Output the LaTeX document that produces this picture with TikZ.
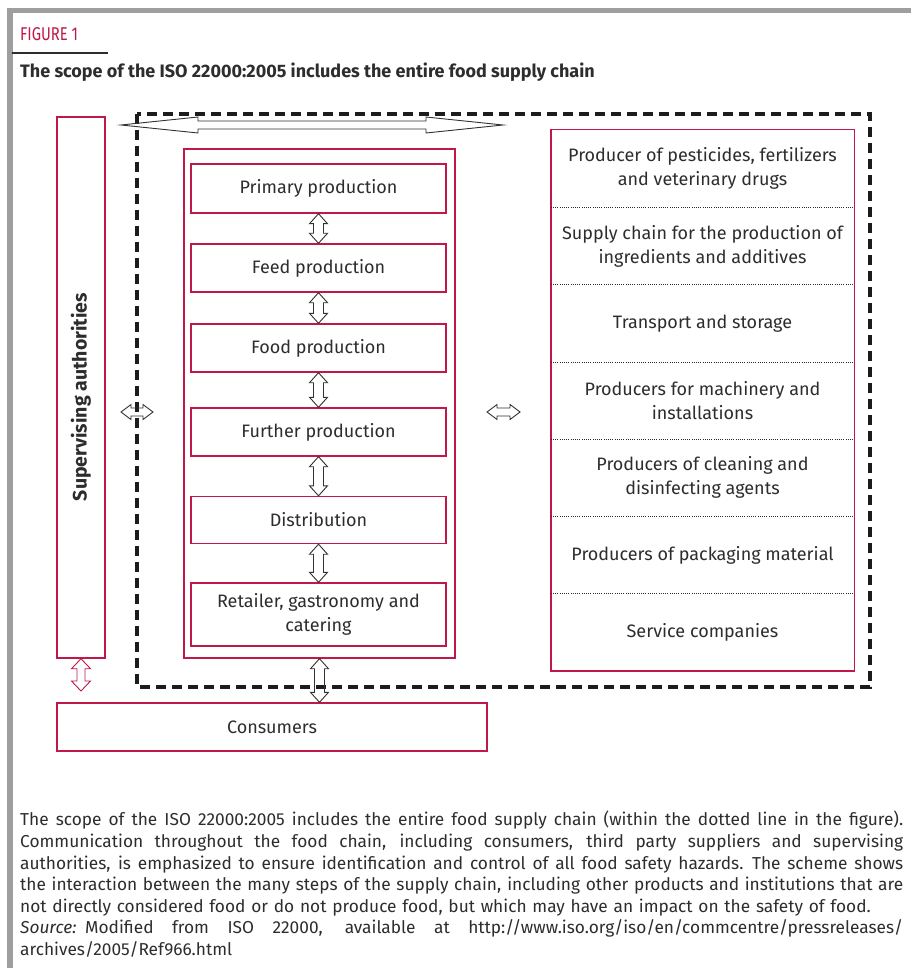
\documentclass[tikz,border=0pt]{standalone}
\usepackage{fontspec}
\setmainfont{Fira Sans}
\newfontfamily\figfont{Fira Sans}[FakeStretch=0.8]
\usetikzlibrary{calc}
\definecolor{crim}{RGB}{192,24,72}
\definecolor{txt}{RGB}{45,45,45}
\definecolor{barg}{RGB}{158,158,160}
\definecolor{dashc}{RGB}{28,28,28}
\definecolor{arrc}{RGB}{50,50,50}

% vertical hollow double arrow: #2 top point, #3 bottom point, #4 shaft half width, #5 head half width, #6 head length
\newcommand\vdarrow[6][]{%
  \draw[hollowarr,#1] let \p1=#2, \p2=#3 in
    (\x1,\y1) -- (\x1+#5,\y1-#6) -- (\x1+#4,\y1-#6) -- (\x1+#4,\y2+#6) -- (\x1+#5,\y2+#6)
    -- (\x1,\y2) -- (\x1-#5,\y2+#6) -- (\x1-#4,\y2+#6) -- (\x1-#4,\y1-#6) -- (\x1-#5,\y1-#6) -- cycle;}
% horizontal hollow double arrow: #2 left point, #3 right point
\newcommand\hdarrow[6][]{%
  \draw[hollowarr,#1] let \p1=#2, \p2=#3 in
    (\x1,\y1) -- (\x1+#6,\y1+#5) -- (\x1+#6,\y1+#4) -- (\x2-#6,\y1+#4) -- (\x2-#6,\y1+#5)
    -- (\x2,\y1) -- (\x2-#6,\y1-#5) -- (\x2-#6,\y1-#4) -- (\x1+#6,\y1-#4) -- (\x1+#6,\y1-#5) -- cycle;}
\newcommand\jline[1]{\leavevmode\hbox to 883pt{\spaceskip=0.23em plus 1em minus 0.08em #1}}

\tikzset{
  hollowarr/.style={draw=arrc, line width=0.9pt, line join=miter},
  cbox/.style={draw=crim, line width=1.4pt, rectangle, inner sep=0pt, text=txt,
    font=\fontsize{18}{24}\selectfont, align=center},
  rowbox/.style={rectangle, inner sep=0pt, text=txt, minimum width=303pt, minimum height=77.28pt,
    font=\fontsize{18}{24}\selectfont, align=center},
  stepbox/.style={cbox, minimum width=255pt},
  divider/.style={draw=txt, line width=0.8pt, dash pattern=on 1pt off 1.2pt},
  scopeline/.style={draw=dashc, line width=4pt, dash pattern=on 10pt off 6pt, line join=miter},
}

\begin{document}
\begin{tikzpicture}[x=1pt,y=-1pt]
\useasboundingbox (0,0) rectangle (911,968);
\fill[white] (0,0) rectangle (911,968);

% frame bars
\fill[barg] (7,8) rectangle (911,13);
\fill[barg] (7,8) rectangle (13,968);

% header
\node[anchor=west, text=crim, font=\figfont\fontsize{18.5}{20}\selectfont, inner sep=0pt] (fig) at (20,34) {FIGURE 1};
\draw[txt, line width=2pt] (12,53) -- (108,53);
\node[anchor=west, text=txt, font=\bfseries\fontsize{18}{20}\selectfont, inner sep=0pt] (sub) at (20,72)
  {The scope of the ISO 22000:2005 includes the entire food supply chain};

% scope (dashed) frame
\coordinate (dtl) at (137,114);
\coordinate (dbr) at (870,687);
\draw[scopeline] (dtl) rectangle (dbr);

% supervising authorities
\node[cbox, minimum width=48pt, minimum height=541pt] (sup) at (81,387.5) {};
\node[rotate=90, text=txt, font=\bfseries\fontsize{19.5}{21}\selectfont, inner sep=0pt] (supt) at (81,397) {Supervising authorities};

% food chain
\node[cbox, minimum width=271pt, minimum height=509pt] (chain) at (319.5,403.5) {};
\node[stepbox, minimum height=49pt] (p1) at (318.5,188.5) {Primary production};
\node[stepbox, minimum height=48pt] (p2) at (318.5,268) {Feed production};
\node[stepbox, minimum height=48pt] (p3) at (318.5,348) {Food production};
\node[stepbox, minimum height=48pt] (p4) at (318.5,432) {Further production};
\node[stepbox, minimum height=47pt] (p5) at (318.5,520) {Distribution};
\node[stepbox, minimum height=63pt] (p6) at (318.5,614.5) {Retailer, gastronomy and\\catering};

\vdarrow{(p1.south)}{(p2.north)}{5pt}{9pt}{10pt}
\vdarrow{(p2.south)}{(p3.north)}{5pt}{9pt}{10pt}
\vdarrow{(p3.south)}{(p4.north)}{5pt}{9pt}{10pt}
\vdarrow{(p4.south)}{(p5.north)}{5pt}{9pt}{10pt}
\vdarrow{(p5.south)}{(p6.north)}{5pt}{9pt}{10pt}

% right column
\node[rowbox] (r1) at (702.5,168.64) {Producer of pesticides, fertilizers\\and veterinary drugs};
\node[rowbox] (r2) at (702.5,245.92) {Supply chain for the production of\\ingredients and additives};
\node[rowbox] (r3) at (702.5,323.2) {Transport and storage};
\node[rowbox] (r4) at (702.5,400.48) {Producers for machinery and\\installations};
\node[rowbox] (r5) at (702.5,477.76) {Producers of cleaning and\\disinfecting agents};
\node[rowbox] (r6) at (702.5,555.04) {Producers of packaging material};
\node[rowbox] (r7) at (702.5,632.32) {Service companies};
\draw[draw=crim, line width=1.4pt] (r1.north west) rectangle (r7.south east);
\foreach \a in {1,...,6}{\draw[divider] (r\a.south west) -- (r\a.south east);}

% consumers
\node[cbox, minimum width=430pt, minimum height=48pt] (cons) at (272,727) {Consumers};

% connectors
\coordinate (tl) at (121,125);
\coordinate (tr) at (503,125);
\hdarrow{(tl)}{(tr)}{4pt}{8pt}{77pt}
\coordinate (la) at (121,412);
\coordinate (lb) at (153,412);
\hdarrow{(la)}{(lb)}{4pt}{7.5pt}{10pt}
\coordinate (ra) at (487,412);
\coordinate (rb) at (520,412);
\hdarrow{(ra)}{(rb)}{4pt}{7.5pt}{10pt}
\coordinate (sb) at (81,691);
\vdarrow[draw=crim]{(sup.south)}{(sb)}{4pt}{9.5pt}{10pt}
\vdarrow{(chain.south)}{(chain.south |- cons.north)}{5pt}{9pt}{10pt}

% caption
\node[anchor=north west, inner sep=0pt, text width=883pt, align=left, text=txt,
  font=\fontsize{17.3}{21.6}\selectfont] (cap) at (20,811)
{\jline{The scope of the ISO 22000:2005 includes the entire food supply chain (within the dotted line in the figure).}\\
\jline{Communication throughout the food chain, including consumers, third party suppliers and supervising}\\
\jline{authorities, is emphasized to ensure identification and control of all food safety hazards. The scheme shows}\\
\jline{the interaction between the many steps of the supply chain, including other products and institutions that are}\\
not directly considered food or do not produce food, but which may have an impact on the safety of food.\\
\jline{\textit{Source:} Modified from ISO 22000, available at http://www.iso.org/iso/en/commcentre/pressreleases/}\\
archives/2005/Ref966.html};
\end{tikzpicture}
\end{document}
